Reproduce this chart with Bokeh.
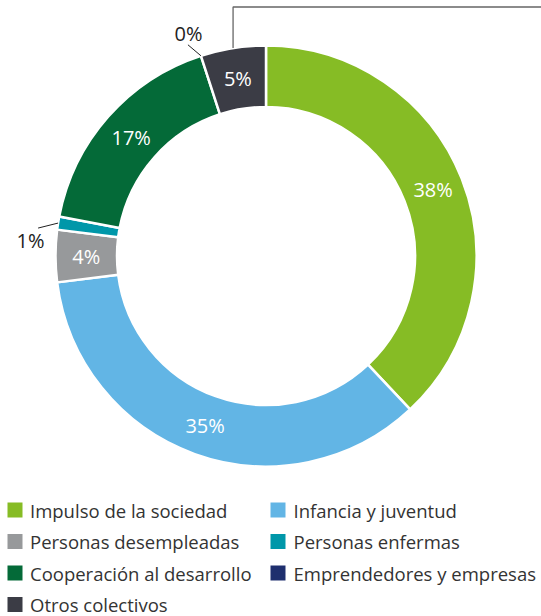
import math
from bokeh.plotting import figure
from bokeh.models import Range1d, ColumnDataSource
from bokeh.core.properties import value
from bokeh.embed import file_html
from bokeh.resources import INLINE

# ---- data ----
categories = ["Impulso de la sociedad", "Infancia y juventud", "Personas desempleadas",
              "Personas enfermas", "Cooperación al desarrollo", "Emprendedores y empresas",
              "Otros colectivos"]
shares = [38, 35, 4, 1, 17, 0, 5]
colors = ["#86BC25", "#62B5E5", "#97999B", "#0097A9", "#046A38", "#1E2F6E", "#3B3C45"]
inside_label = [True, True, True, False, True, False, True]

FONT = "Open Sans"
W, H = 541, 616
cx, cy = 265.5, H - 255.5
r_out, r_in = 210.5, 149.0

p = figure(width=W, height=H, x_range=Range1d(0, W), y_range=Range1d(0, H),
           output_backend="svg", toolbar_location=None, min_border=0)
p.axis.visible = False
p.grid.visible = False
p.outline_line_color = None
p.background_fill_color = "white"

total = float(sum(shares))
starts, ends, mids = [], [], []
acc = 0.0
for v in shares:
    s = acc / total * 2 * math.pi
    acc += v
    e = acc / total * 2 * math.pi
    starts.append(s); ends.append(e); mids.append((s + e) / 2)

ws = ColumnDataSource(dict(
    start=[math.pi / 2 - s for s, v in zip(starts, shares) if v > 0],
    end=[math.pi / 2 - e for e, v in zip(ends, shares) if v > 0],
    color=[c for c, v in zip(colors, shares) if v > 0],
))
p.annular_wedge(x=cx, y=cy, inner_radius=r_in, outer_radius=r_out,
                start_angle="start", end_angle="end", direction="clock",
                fill_color="color", line_color="white", line_width=2.5, source=ws)

# inside labels
r_mid = (r_in + r_out) / 2
ix, iy, it = [], [], []
for m, v, ins in zip(mids, shares, inside_label):
    if ins:
        ix.append(cx + r_mid * math.sin(m))
        iy.append(cy + r_mid * math.cos(m))
        it.append(f"{v}%")
p.text(x=ix, y=iy, text=it, text_color="white", text_font=value(FONT),
       text_font_size="20px", text_align="center", text_baseline="middle")

# outside labels with leaders
leader_offsets = {5: (-13, 11), 3: (-20, -5)}
label_offsets = {5: (-12.5, 22), 3: (-27.5, -17.5)}
ox, oy, ot = [], [], []
for i, (m, v, ins) in enumerate(zip(mids, shares, inside_label)):
    if not ins:
        px = cx + r_out * math.sin(m)
        py = cy + r_out * math.cos(m)
        dx, dy = leader_offsets[i]
        p.line([px, px + dx], [py, py + dy], line_color="#222222", line_width=1)
        lx, ly = label_offsets[i]
        ox.append(px + lx); oy.append(py + ly); ot.append(f"{v}%")
p.text(x=ox, y=oy, text=ot, text_color="#222222", text_font=value(FONT),
       text_font_size="20px", text_align="center", text_baseline="middle")

# callout frame line from 'Otros colectivos'
m = mids[6]
fx = cx + r_out * math.sin(m)
fy = cy + r_out * math.cos(m)
p.line([fx, fx, W], [fy, H - 6.5, H - 6.5], line_color="#666666", line_width=1.3)

# legend
lx0 = [14.5, 277.5]
tx0 = [29.5, 293]
row_y = [H - 509.5, H - 541, H - 572.5, H - 604]
sqx, sqy, tx, ty = [], [], [], []
for i, c in enumerate(categories):
    col, row = i % 2, i // 2
    sqx.append(lx0[col]); sqy.append(row_y[row])
    tx.append(tx0[col]); ty.append(row_y[row])
p.scatter(x=sqx, y=sqy, marker="square", size=15, fill_color=colors, line_color=None)
p.text(x=tx, y=ty, text=categories, text_color="#333333", text_font=value(FONT),
       text_font_size="18.5px", text_align="left", text_baseline="middle")

open("out.html", "w").write(file_html(p, INLINE))
